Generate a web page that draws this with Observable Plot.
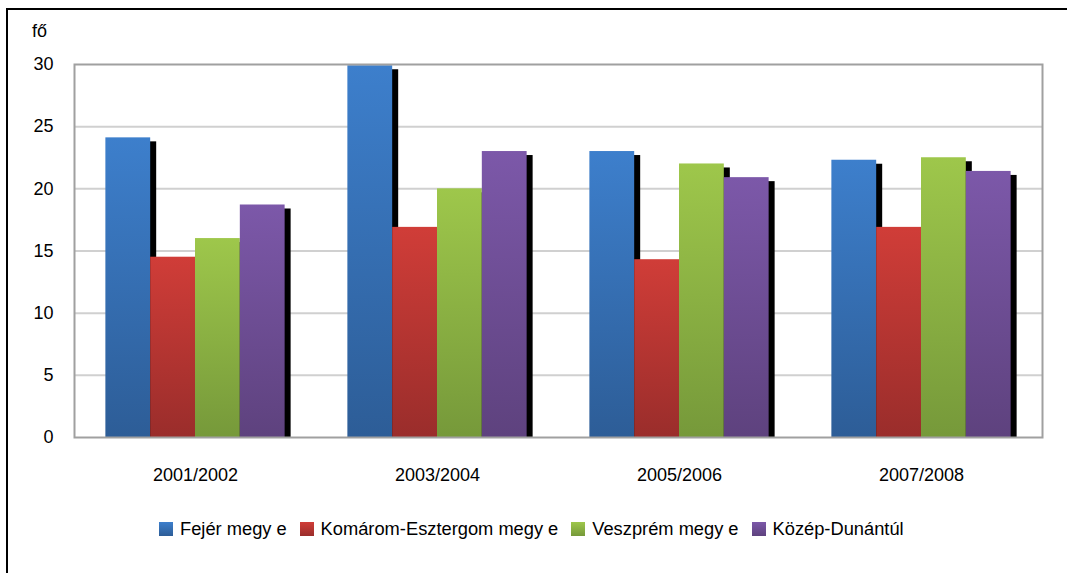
<!DOCTYPE html>
<html>
<head>
<meta charset="utf-8">
<script src="https://cdn.jsdelivr.net/npm/d3@7"></script>
<script src="https://cdn.jsdelivr.net/npm/@observablehq/plot@0.6"></script>
<style>
  html, body { margin: 0; padding: 0; background: #fff; }
  body { width: 1067px; height: 573px; overflow: hidden; position: relative; font-family: "Liberation Sans", Arial, sans-serif; }
  #border { position: absolute; left: 6px; top: 8px; width: 1100px; height: 620px; border: 2px solid #000; }
  #chart { position: absolute; left: 0; top: 0; }
  #unit { position: absolute; left: 32px; top: 22px; font-size: 18px; line-height: 18px; color: #000; }
  #legend { position: absolute; left: 159px; top: 519px; display: flex; align-items: center; font-size: 18.3px; line-height: 20px; color: #000; }
  #legend .item { display: flex; align-items: center; margin-right: 13px; }
  #legend .sw { width: 14px; height: 14px; margin-right: 7px; }
  #legend .gap { margin-left: 5px; }
</style>
</head>
<body>
<svg width="0" height="0" style="position:absolute">
  <defs id="grads"></defs>
</svg>
<div id="border"></div>
<div id="chart"></div>
<div id="unit">fő</div>
<div id="legend"></div>
<script>
// ---- data ----
const years = ["2001/2002", "2003/2004", "2005/2006", "2007/2008"];
const series = ["Fejér megye", "Komárom-Esztergom megye", "Veszprém megye", "Közép-Dunántúl"];
const fejer    = [24.1, 29.9, 23.0, 22.3];
const komarom  = [14.5, 16.9, 14.3, 16.9];
const veszprem = [16.0, 20.0, 22.0, 22.5];
const kozep    = [18.7, 23.0, 20.9, 21.4];
const yTicks = [0, 5, 10, 15, 20, 25, 30];

// ---- styles ----
const gradTop    = ["#3d7fcc", "#d03d38", "#9ec74b", "#7c58a9"];
const gradBottom = ["#2d5d97", "#9a2d2b", "#76993a", "#5e427e"];
const gradIds = ["gFejer", "gKomarom", "gVeszprem", "gKozep"];

const defs = d3.select("#grads");
gradIds.forEach((id, i) => {
  const g = defs.append("linearGradient").attr("id", id)
    .attr("x1", 0).attr("y1", 0).attr("x2", 0).attr("y2", 1);
  g.append("stop").attr("offset", "0%").attr("stop-color", gradTop[i]);
  g.append("stop").attr("offset", "100%").attr("stop-color", gradBottom[i]);
});

const allSeries = [fejer, komarom, veszprem, kozep];
const data = years.flatMap((yr, i) => series.map((s, j) => ({year: yr, series: s, value: allSeries[j][i]})));

const chart = Plot.plot({
  width: 1067,
  height: 490,
  marginLeft: 74,
  marginRight: 25,
  marginTop: 64,
  marginBottom: 53,
  style: {fontFamily: "'Liberation Sans', Arial, sans-serif", fontSize: "18px", color: "#000", background: "transparent", overflow: "visible"},
  fx: {domain: years, padding: 0, round: false, label: null, tickSize: 0, tickPadding: 31},
  x: {domain: series, paddingInner: 0, paddingOuter: 0.7, round: false, axis: null},
  y: {domain: [0, 30], ticks: yTicks, tickSize: 0, tickPadding: 21, label: null},
  color: {type: "ordinal", domain: series, range: gradIds.map(id => `url(#${id})`)},
  marks: [
    Plot.ruleY(yTicks.filter(t => t > 0 && t < 30), {stroke: "#d0d0d0", strokeWidth: 2}),
    Plot.barY(data, {fx: "year", x: "series", y: "value", fill: "#000", dx: 6, dy: 4, insetBottom: 4}),
    Plot.barY(data, {fx: "year", x: "series", y: "value", fill: "series"}),
    Plot.frame({stroke: "#a0a0a0", strokeWidth: 2, facet: "super"})
  ]
});
document.getElementById("chart").appendChild(chart);

// ---- legend ----
const legend = d3.select("#legend");
series.forEach((s, i) => {
  const it = legend.append("div").attr("class", "item");
  it.append("div").attr("class", "sw")
    .style("background", `linear-gradient(${gradTop[i]}, ${gradBottom[i]})`);
  const label = it.append("span");
  if (s.endsWith("megye")) {
    // the original renders the last letter slightly apart ("megy e")
    label.append("span").text(s.slice(0, -1));
    label.append("span").attr("class", "gap").text(s.slice(-1));
  } else {
    label.text(s);
  }
});
</script>
</body>
</html>
